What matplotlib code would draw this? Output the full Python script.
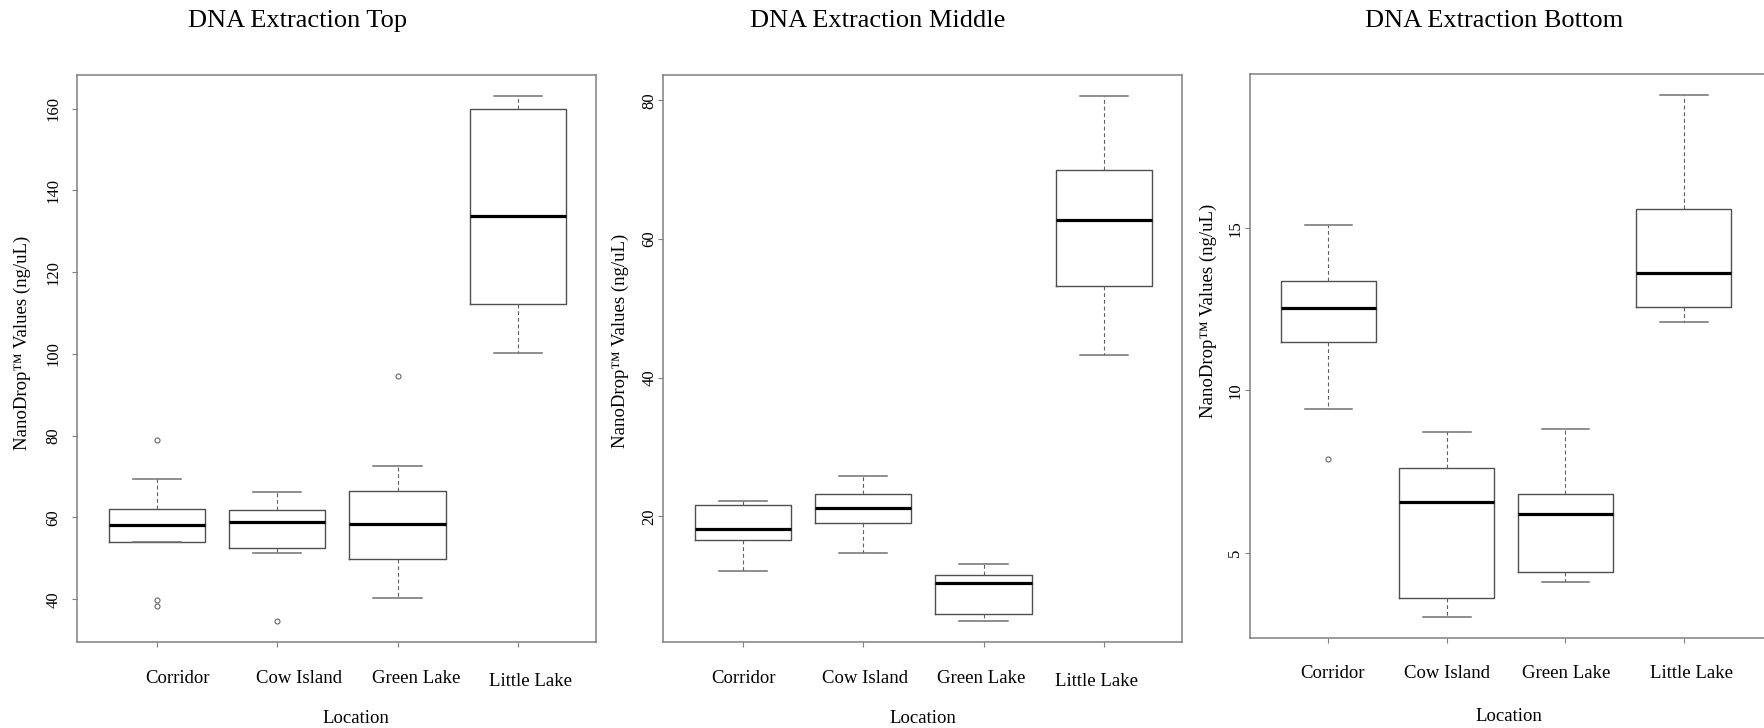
import matplotlib
matplotlib.use("Agg")
import matplotlib.pyplot as plt
from matplotlib.transforms import ScaledTranslation

LOCATIONS = ["Corridor", "Cow Island", "Green Lake", "Little Lake"]
TITLES = ["DNA Extraction Top", "DNA Extraction Middle", "DNA Extraction Bottom"]
YLABEL = "NanoDrop\u2122 Values (ng/uL)"
XLABEL = "Location"

# five-number summaries per location (ng/uL)
TOP_LO = [54.0, 51.3, 40.3, 100.2]
TOP_Q1 = [54.0, 52.6, 49.8, 112.2]
TOP_MED = [58.1, 58.9, 58.4, 133.8]
TOP_Q3 = [62.0, 61.9, 66.5, 159.8]
TOP_HI = [69.4, 66.3, 72.5, 163.2]
TOP_OUT = [[78.9, 39.7, 38.4], [34.8], [94.7], []]

MID_LO = [12.1, 14.8, 5.0, 43.3]
MID_Q1 = [16.6, 19.1, 6.0, 53.2]
MID_MED = [18.2, 21.2, 10.4, 62.7]
MID_Q3 = [21.6, 23.2, 11.5, 69.9]
MID_HI = [22.3, 25.8, 13.2, 80.7]
MID_OUT = [[], [], [], []]

BOT_LO = [9.42, 3.00, 4.10, 12.11]
BOT_Q1 = [11.49, 3.61, 4.41, 12.59]
BOT_MED = [12.56, 6.56, 6.19, 13.61]
BOT_Q3 = [13.38, 7.60, 6.81, 15.61]
BOT_HI = [15.11, 8.72, 8.81, 19.11]
BOT_OUT = [[7.90], [], [], []]

TOP_TICKS = [40, 60, 80, 100, 120, 140, 160]
MID_TICKS = [20, 40, 60, 80]
BOT_TICKS = [5, 10, 15]

W, H = 1765, 728
plt.rcParams.update({
    "font.family": ["Liberation Serif", "DejaVu Serif"],
})

fig = plt.figure(figsize=(W / 100, H / 100), dpi=100)


def rect(left, top, right, bottom):
    return [left / W, 1 - bottom / H, (right - left) / W, (bottom - top) / H]


def shift(artist, dx, dy):
    artist.set_transform(artist.get_transform()
                         + ScaledTranslation(dx / 100, -dy / 100, fig.dpi_scale_trans))


panels = [
    dict(box=(77, 74.6, 596, 641.5), xlim=(0.335, 4.65),
         data=(TOP_LO, TOP_Q1, TOP_MED, TOP_Q3, TOP_HI, TOP_OUT), ticks=TOP_TICKS,
         ypad=7.5, xpad=17, ylab=(-0.105, 0.527), xlab=(0.537, -0.136),
         lab_shift=[(21, 0), (22, 0), (19, 0), (13, 3)], title=(298, 27)),
    dict(box=(663, 74.6, 1182, 641.5), xlim=(0.335, 4.65),
         data=(MID_LO, MID_Q1, MID_MED, MID_Q3, MID_HI, MID_OUT), ticks=MID_TICKS,
         ypad=0.5, xpad=17, ylab=(-0.083, 0.530), xlab=(0.5, -0.136),
         lab_shift=[(1, 0), (2, 0), (-2, 0), (-7, 3)], title=(878, 27)),
    dict(box=(1249.5, 74.3, 1768, 638.3), xlim=(0.335, 4.71),
         data=(BOT_LO, BOT_Q1, BOT_MED, BOT_Q3, BOT_HI, BOT_OUT), ticks=BOT_TICKS,
         ypad=1.0, xpad=15.5, ylab=(-0.080, 0.581), xlab=(0.50, -0.139),
         lab_shift=[(4, 0), (0, 0), (1, 0), (8, 0)], title=(1494, 27)),
]

frame = "#808080"
edge = "#505050"

for p, title in zip(panels, TITLES):
    ax = fig.add_axes(rect(*p["box"]))
    lo, q1, med, q3, hi, out = p["data"]
    stats = [dict(whislo=lo[i], q1=q1[i], med=med[i], q3=q3[i], whishi=hi[i],
                  fliers=out[i], label=LOCATIONS[i]) for i in range(len(LOCATIONS))]
    ax.bxp(stats, positions=[1, 2, 3, 4], widths=0.8, manage_ticks=False,
           boxprops=dict(color=edge, linewidth=1.0),
           whiskerprops=dict(color="#606060", linewidth=0.8, linestyle=(0, (3.5, 2.5))),
           capprops=dict(color="#707070", linewidth=1.1),
           medianprops=dict(color="black", linewidth=2.3, solid_capstyle="butt"),
           flierprops=dict(marker="o", markerfacecolor="none", markeredgecolor="#666666",
                           markersize=3.6, markeredgewidth=0.8))

    # R-style range: data extent padded by 4% each side
    vals = lo + hi + [v for o in out for v in o]
    vmin, vmax = min(vals), max(vals)
    r = vmax - vmin
    ax.set_ylim(vmin - 0.04 * r, vmax + 0.04 * r)
    ax.set_xlim(*p["xlim"])

    ax.set_yticks(p["ticks"])
    ax.set_yticklabels([str(t) for t in p["ticks"]], rotation=90, va="center", fontsize=12)
    ax.set_xticks([1, 2, 3, 4])
    ax.set_xticklabels(LOCATIONS, fontsize=13.5)
    ax.tick_params(axis="y", length=3.5, width=0.8, color=frame, pad=p["ypad"])
    ax.tick_params(axis="x", length=3.5, width=0.8, color=frame, pad=p["xpad"])
    for lab, (dx, dy) in zip(ax.get_xticklabels(), p["lab_shift"]):
        shift(lab, dx, dy)

    for s in ax.spines.values():
        s.set_color(frame)
        s.set_linewidth(1.1)

    ax.set_ylabel(YLABEL, fontsize=13.5)
    ax.yaxis.label.set_va("center")
    ax.yaxis.set_label_coords(*p["ylab"])
    ax.set_xlabel(XLABEL, fontsize=13.5)
    ax.xaxis.label.set_va("center")
    ax.xaxis.set_label_coords(*p["xlab"])

    tx, ty = p["title"]
    fig.text(tx / W, 1 - ty / H, title, ha="center", va="baseline", fontsize=19)

fig.savefig("out.png", dpi=100)
